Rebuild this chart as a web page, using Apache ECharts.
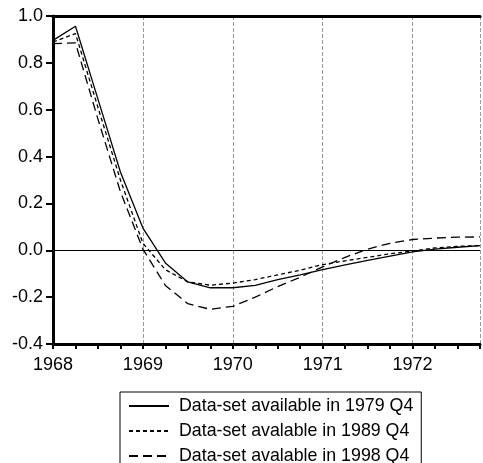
<!DOCTYPE html>
<html>
<head>
<meta charset="UTF-8">
<title>Data-set vintages</title>
<script src="https://cdn.jsdelivr.net/npm/echarts@6/dist/echarts.min.js"></script>
<style>
  html, body { margin: 0; padding: 0; background: #fff; }
  #main { width: 483px; height: 463px; }
</style>
</head>
<body>
<div id="main"></div>
<script>
// quarterly dates, 1968Q1 .. 1972Q4
var quarters = [1968.0, 1968.25, 1968.5, 1968.75, 1969.0, 1969.25, 1969.5, 1969.75,
                1970.0, 1970.25, 1970.5, 1970.75, 1971.0, 1971.25, 1971.5, 1971.75,
                1972.0, 1972.25, 1972.5, 1972.75];

var vintage1979 = [0.896, 0.956, 0.645, 0.334, 0.095, -0.054, -0.135, -0.160,
                   -0.160, -0.150, -0.125, -0.105, -0.083, -0.062, -0.043, -0.025,
                   -0.007, 0.005, 0.013, 0.020];
var vintage1989 = [0.889, 0.925, 0.610, 0.300, 0.030, -0.083, -0.135, -0.149,
                   -0.140, -0.125, -0.105, -0.085, -0.061, -0.045, -0.030, -0.015,
                   -0.003, 0.010, 0.017, 0.020];
var vintage1998 = [0.882, 0.885, 0.560, 0.250, 0.005, -0.150, -0.228, -0.252,
                   -0.239, -0.200, -0.155, -0.115, -0.071, -0.030, 0.005, 0.030,
                   0.046, 0.052, 0.056, 0.057];

var seriesNames = ['Data-set available in 1979 Q4',
                   'Data-set avalable in 1989 Q4',
                   'Data-set avalable in 1998 Q4'];

function pairs(vals) {
  return quarters.map(function (q, i) { return [q, vals[i]]; });
}

var font = 'Arial, "Liberation Sans", sans-serif';
var chart = echarts.init(document.getElementById('main'));

var option = {
  animation: false,
  textStyle: { fontFamily: font, color: '#000' },
  grid: { left: 53, top: 16, right: -5, bottom: 119 },
  xAxis: [
    {
      // quarter ticks + year labels along the bottom
      type: 'value', min: 1968, max: 1972.75, interval: 0.25,
      axisLine: { onZero: false, lineStyle: { color: '#000', width: 3 } },
      axisTick: { length: 5, lineStyle: { color: '#000', width: 2 } },
      axisLabel: {
        fontSize: 18, color: '#000', margin: 12, fontFamily: font,
        formatter: function (v) { return (v % 1 === 0) ? String(v) : ''; }
      },
      splitLine: { show: false }
    },
    {
      // top frame + dashed year gridlines
      type: 'value', position: 'top', min: 1968, max: 1972.75, interval: 1,
      axisLine: { show: true, onZero: false, lineStyle: { color: '#000', width: 3 } },
      axisTick: { show: false },
      axisLabel: { show: false },
      splitLine: { show: true, lineStyle: { color: '#999', width: 1, type: [4, 2] } }
    }
  ],
  yAxis: {
    type: 'value', min: -0.4, max: 1.0, interval: 0.2,
    axisLine: { show: true, onZero: false, lineStyle: { color: '#000', width: 3 } },
    axisTick: { show: true, length: 7, lineStyle: { color: '#000', width: 2 } },
    axisLabel: {
      fontSize: 18, color: '#000', margin: 10, fontFamily: font,
      formatter: function (v) { return v.toFixed(1); }
    },
    splitLine: { show: false }
  },
  legend: {
    orient: 'vertical',
    left: 120, top: 392, height: 120,
    padding: [5, 8, 20, 8],
    borderColor: '#000', borderWidth: 1,
    itemWidth: 40, itemHeight: 14, itemGap: 7,
    itemStyle: { opacity: 0 },
    textStyle: { fontSize: 17.8, color: '#000', fontFamily: font, padding: [0, 0, 0, 5] },
    data: seriesNames
  },
  series: [
    {
      name: seriesNames[0], type: 'line', symbol: 'none', data: pairs(vintage1979),
      lineStyle: { color: '#000', width: 1.3, type: 'solid' }, itemStyle: { color: '#000' },
      markLine: {
        silent: true, symbol: 'none', label: { show: false },
        lineStyle: { color: '#000', width: 1, type: 'solid' },
        data: [{ yAxis: 0 }]
      }
    },
    {
      name: seriesNames[1], type: 'line', symbol: 'none', data: pairs(vintage1989),
      lineStyle: { color: '#000', width: 1.3, type: [4, 3] }, itemStyle: { color: '#000' }
    },
    {
      name: seriesNames[2], type: 'line', symbol: 'none', data: pairs(vintage1998),
      lineStyle: { color: '#000', width: 1.3, type: [9, 5] }, itemStyle: { color: '#000' }
    }
  ]
};

chart.setOption(option);
</script>
</body>
</html>
